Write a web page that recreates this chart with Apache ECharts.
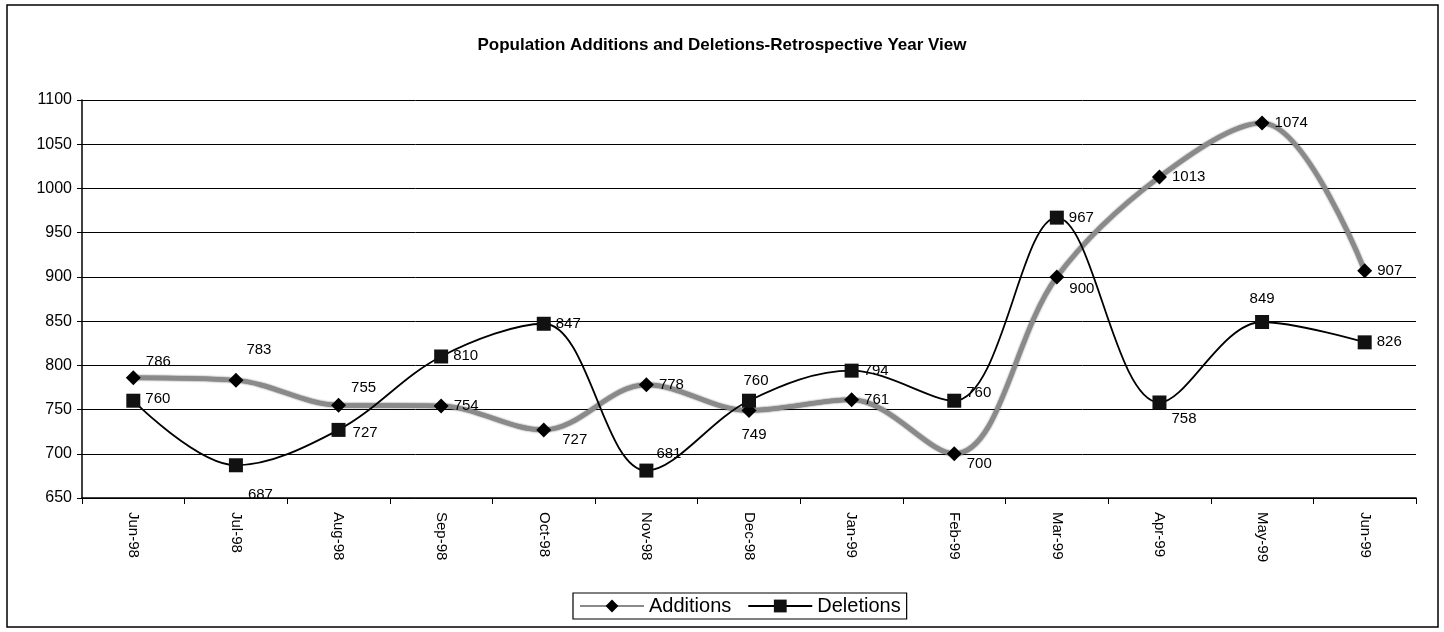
<!DOCTYPE html>
<html lang="en">
<head>
    <meta charset="UTF-8" />
    <title>Population Additions and Deletions</title>
    <script src="https://cdn.jsdelivr.net/npm/echarts@6/dist/echarts.js"></script>
    <style>
        body { margin: 0; background: #fff; }
        #lienzo { width: 1444px; height: 632px; }
    </style>
</head>
<body>
    <div id="lienzo"></div>
    <script>
        const meses = ['Jun-98', 'Jul-98', 'Aug-98', 'Sep-98', 'Oct-98', 'Nov-98', 'Dec-98',
            'Jan-99', 'Feb-99', 'Mar-99', 'Apr-99', 'May-99', 'Jun-99'];
        const additions = [786, 783, 755, 754, 727, 778, 749, 761, 700, 900, 1013, 1074, 907];
        const deletions = [760, 687, 727, 810, 847, 681, 760, 794, 760, 967, 758, 849, 826];

        // placement of each value label: [position, dx, dy]
        const etiqAdd = [['right', 0, -16], ['right', -2, -31], ['right', 0, -17], ['right', 0, 0],
            ['right', 6, 10], ['right', 0, 0], ['bottom', 5, 4], ['right', 0, 0], ['right', 0, 10],
            ['right', 0, 12], ['right', 0, 0], ['right', 0, 0], ['right', 0, 0]];
        const etiqDel = [['right', 0, -2], ['right', 0, 30], ['right', 2, 3], ['right', 0, -1],
            ['right', 0, 0], ['right', -2, -17], ['top', 7, 0], ['right', 0, 0], ['right', 0, -8],
            ['right', 0, 0], ['right', 0, 16], ['top', 0, -4], ['right', 0, 0]];

        function armarDatos(valores, etiquetas) {
            return valores.map((v, i) => {
                let e = etiquetas[i];
                return {
                    value: v,
                    label: { position: e[0], offset: [e[1], e[2]] }
                };
            });
        }

        let myChart = echarts.init(document.getElementById('lienzo'));
        myChart.setOption({
            animation: false,
            textStyle: { fontFamily: 'Liberation Sans, Arial, sans-serif' },
            graphic: [{
                type: 'rect',
                shape: { x: 7, y: 5, width: 1431, height: 622 },
                style: { fill: 'none', stroke: '#000', lineWidth: 1.5 }
            }],
            title: {
                text: 'Population Additions and Deletions-Retrospective Year View',
                left: 'center',
                top: 32,
                textStyle: { fontSize: 17, fontWeight: 'bold', color: '#000' }
            },
            legend: {
                bottom: 13,
                left: 573,
                itemWidth: 64,
                itemHeight: 16,
                itemGap: 16,
                padding: [3, 6],
                borderColor: '#000',
                borderWidth: 1.2,
                textStyle: { fontSize: 20, color: '#000' },
                data: ['Additions', 'Deletions']
            },
            grid: { left: 82, right: 28, top: 100, bottom: 134 },
            xAxis: {
                type: 'category',
                data: meses,
                boundaryGap: true,
                axisLine: { lineStyle: { color: '#000', width: 1.5 } },
                axisTick: { show: true, length: 6, lineStyle: { color: '#000' } },
                axisLabel: { rotate: -90, color: '#000', fontSize: 15, margin: 14 }
            },
            yAxis: {
                type: 'value',
                min: 650,
                max: 1100,
                interval: 50,
                axisLine: { show: true, lineStyle: { color: '#000', width: 1.5 } },
                axisTick: { show: true, length: 5, lineStyle: { color: '#000' } },
                axisLabel: { color: '#000', fontSize: 16, margin: 10, formatter: (v) => String(v) },
                splitLine: { lineStyle: { color: '#000', width: 1 } }
            },
            series: [
                {
                    name: 'Additions',
                    type: 'line',
                    smooth: 0.35,
                    data: armarDatos(additions, etiqAdd),
                    symbol: 'diamond',
                    symbolSize: 15,
                    itemStyle: { color: '#000' },
                    lineStyle: {
                        color: '#8a8a8a', width: 4.5,
                        shadowColor: 'rgba(0,0,0,0.7)', shadowBlur: 2
                    },
                    label: { show: true, color: '#000', fontSize: 15 },
                    z: 3
                },
                {
                    name: 'Deletions',
                    type: 'line',
                    smooth: 0.35,
                    data: armarDatos(deletions, etiqDel),
                    symbol: 'rect',
                    symbolSize: 14,
                    itemStyle: { color: '#111' },
                    lineStyle: { color: '#000', width: 1.8 },
                    label: { show: true, color: '#000', fontSize: 15 },
                    z: 4
                }
            ]
        });
    </script>
</body>
</html>
